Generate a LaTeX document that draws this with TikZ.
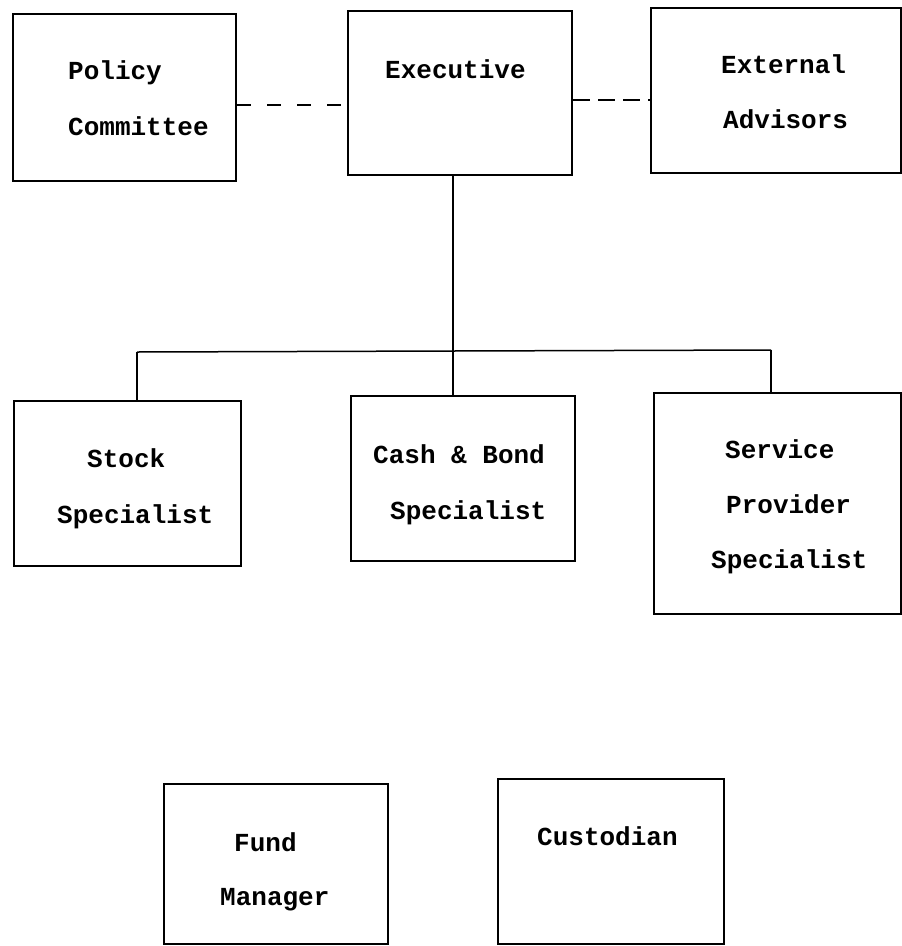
\documentclass[tikz,border=0pt]{standalone}
\usepackage{fontspec}
\usepackage{tikz}
\usetikzlibrary{positioning,calc}
\newfontfamily\typefont{Liberation Mono}
\tikzset{
  unit/.style 2 args={draw, line width=2pt, anchor=north west, inner sep=0pt,
                      minimum width=#1pt, minimum height=#2pt},
  txt/.style={anchor=base west, inner sep=0pt,
              font=\typefont\bfseries\fontsize{26}{30}\selectfont},
  wire/.style={line width=1.5pt},
  advice/.style={wire, dash pattern=on 14pt off 16pt},
  consult/.style={wire, dash pattern=on 17pt off 8pt}
}

\begin{document}
\begin{tikzpicture}[x=1pt, y=-1pt]
    \useasboundingbox (0,0) rectangle (902,946);
    % top row
    \node[unit={223}{167}] (policy) at (12,13) {};
    \node[unit={224}{164}] (exec) at (347,10) {};
    \node[unit={250}{165}] (ext) at (650,7) {};
    \node[txt] (policy-a) at (68,79) {Policy};
    \node[txt] (policy-b) at (68,135) {Committee};
    \node[txt] (exec-a) at (385,78) {Executive};
    \node[txt] (ext-a) at (721,73) {External};
    \node[txt] (ext-b) at (723,128) {Advisors};
    % specialists
    \node[unit={227}{165}] (stock) at (13,400) {};
    \node[unit={224}{165}] (cash) at (350,395) {};
    \node[unit={247}{221}] (service) at (653,392) {};
    \node[txt] (stock-a) at (87,467) {Stock};
    \node[txt] (stock-b) at (57,523) {Specialist};
    \node[txt] (cash-a) at (373,463) {Cash \& Bond};
    \node[txt] (cash-b) at (390,519) {Specialist};
    \node[txt] (service-a) at (725,458) {Service};
    \node[txt] (service-b) at (726,513) {Provider};
    \node[txt] (service-c) at (711,568) {Specialist};
    % bottom row
    \node[unit={224}{160}] (fund) at (163,783) {};
    \node[unit={226}{165}] (cust) at (497,778) {};
    \node[txt] (fund-a) at (234,851) {Fund};
    \node[txt] (fund-b) at (220,905) {Manager};
    \node[txt] (cust-a) at (537,845) {Custodian};
    % links
    \coordinate (pc) at (0,105);
    \coordinate (ec) at (0,100);
    \draw[advice] (policy.east |- pc) -- (exec.west |- pc);
    \draw[consult] (exec.east |- ec) -- (ext.west |- ec);
    \coordinate (bus) at (453,351);
    \coordinate (busL) at (137,352);
    \coordinate (busR) at (771,350);
    \draw[wire] (exec.south -| bus) -- (bus);
    \draw[wire] (busL) -- (bus) -- (busR);
    \draw[wire] (busL) -- (busL |- stock.north);
    \draw[wire] (bus) -- (bus |- cash.north);
    \draw[wire] (busR) -- (busR |- service.north);
\end{tikzpicture}
\end{document}
